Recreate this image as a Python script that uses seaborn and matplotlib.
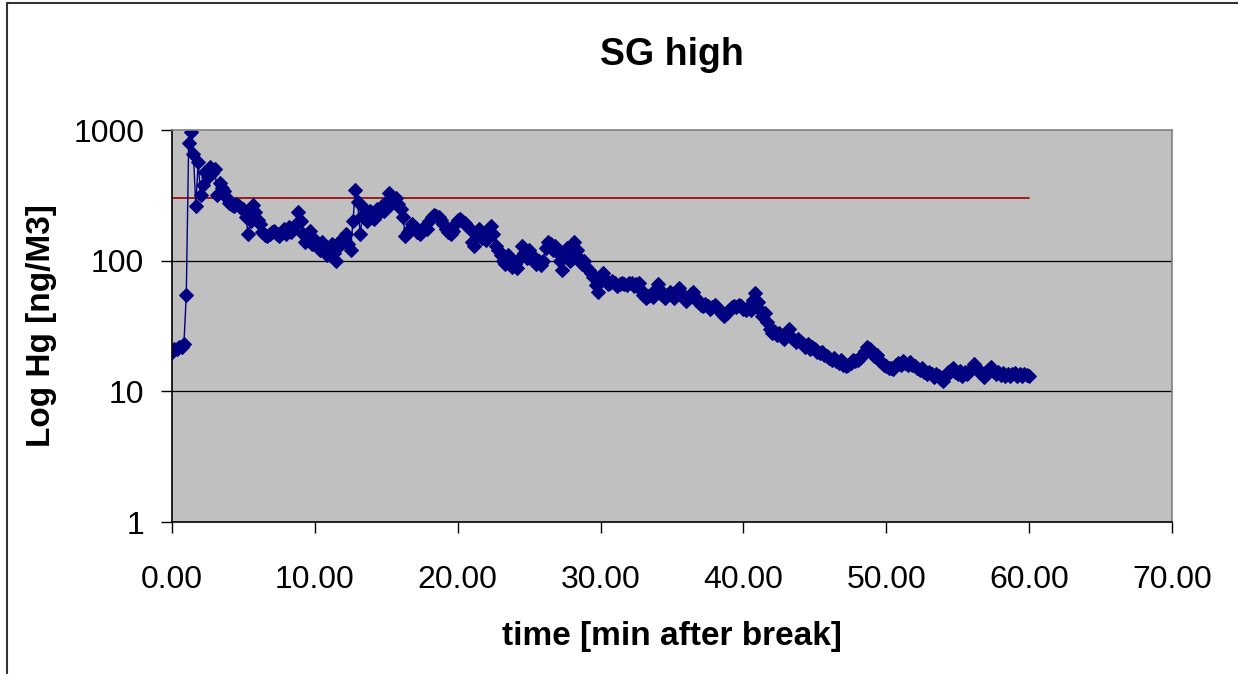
"""Hg concentration after break, SG high (log scale)."""

import numpy as np
import pandas as pd
import matplotlib
matplotlib.use("Agg")
import matplotlib.pyplot as plt
from matplotlib.patches import Rectangle
import seaborn as sns

# sampled every 10 s (1/6 min) from 0 to 60 min
time_min = np.round(np.arange(361) / 6, 3)

# Hg readings [ng/m3], one row per 2 minutes
hg = [
    20, 21, 21, 22, 22, 23, 55, 800, 960, 650, 260, 570,
    320, 380, 480, 440, 520, 470, 500, 320, 390, 360, 340, 300,
    275, 268, 262, 270, 262, 255, 250, 215, 160, 200, 265, 235,
    205, 190, 165, 158, 155, 160, 165, 170, 160, 155, 165, 175,
    160, 180, 165, 175, 190, 235, 200, 160, 140, 150, 170, 135,
    145, 130, 120, 140, 125, 110, 120, 135, 115, 100, 130, 145,
    150, 160, 135, 120, 200, 350, 280, 160, 220, 250, 200, 240,
    230, 210, 250, 230, 260, 240, 280, 330, 270, 290, 300, 270,
    250, 215, 155, 165, 175, 190, 180, 165, 160, 170, 180, 175,
    200, 215, 225, 220, 215, 205, 190, 175, 165, 160, 170, 190,
    205, 210, 200, 195, 185, 175, 140, 130, 165, 175, 150, 160,
    145, 170, 185, 160, 130, 120, 110, 100, 95, 110, 100, 90,
    95, 88, 105, 130, 115, 105, 120, 110, 100, 95, 100, 92,
    100, 125, 140, 135, 120, 130, 115, 100, 85, 110, 125, 100,
    115, 140, 120, 105, 95, 100, 90, 85, 80, 75, 65, 58,
    70, 80, 72, 66, 68, 70, 67, 64, 66, 68, 66, 65,
    67, 68, 64, 66, 67, 60, 55, 52, 54, 55, 53, 60,
    66, 60, 55, 52, 55, 58, 55, 52, 58, 62, 56, 52,
    49, 52, 56, 58, 52, 48, 46, 45, 47, 45, 43, 44,
    46, 44, 41, 39, 38, 40, 42, 44, 45, 44, 46, 45,
    43, 42, 44, 42, 50, 57, 48, 42, 38, 40, 34, 30,
    28, 29, 27, 28, 26, 25, 27, 30, 26, 25, 24, 25,
    24, 23, 22, 23, 21, 22, 21, 20, 19.5, 20, 19, 18.5,
    18, 17.5, 18, 17, 16.5, 17.5, 16, 15.5, 16, 16.5, 17.5, 17,
    17.5, 18, 19, 20.5, 21.8, 21, 19.5, 18.5, 19, 17.5, 16.5, 16,
    15.5, 15, 15.2, 14.8, 16, 16.5, 16, 17, 16.5, 16, 16.8, 16,
    15.5, 15, 14.5, 15, 14, 13.5, 14, 13.5, 12.8, 13.5, 13, 12.5,
    12, 13, 14, 14.5, 15, 14, 13.5, 14.2, 13.2, 14, 13.5, 14.5,
    15, 16.3, 15, 14, 13.5, 12.8, 14, 14.8, 15.3, 14.2, 13.6, 14,
    13.4, 13.8, 13.2, 13.6, 13, 13.5, 13.8, 13.2, 13.6, 13.1, 13.5, 13.3,
    13,
]

# reference level
limit_x = [0, 60]
limit_y = [300, 300]

x_ticks = [0, 10, 20, 30, 40, 50, 60, 70]
y_ticks = [1, 10, 100, 1000]

df = pd.DataFrame({'time': time_min, 'hg': hg})
ref = pd.DataFrame({'time': limit_x, 'hg': limit_y})

sns.set_theme(style="white")
plt.rcParams['font.family'] = ['Liberation Sans', 'DejaVu Sans']
plt.rcParams['text.color'] = 'black'
plt.rcParams['axes.labelcolor'] = 'black'
plt.rcParams['xtick.color'] = 'black'
plt.rcParams['ytick.color'] = 'black'

fig = plt.figure(figsize=(12.38, 6.74), dpi=100)
ax = fig.add_axes([172 / 1238, 1 - 522 / 674, 1000 / 1238, 392 / 674])
ax.set_facecolor('#C0C0C0')

sns.lineplot(data=ref, x='time', y='hg', color='#990000', linewidth=1.2,
             estimator=None, sort=False, ax=ax)
sns.lineplot(data=df, x='time', y='hg', color='#000080', linewidth=1,
             marker='D', markersize=7, markeredgecolor='#000080',
             estimator=None, sort=False, ax=ax)

ax.set_yscale('log')
ax.set_xlim(0, 70)
ax.set_ylim(1, 1000)
ax.set_xticks(x_ticks)
ax.set_xticklabels([f"{v:.2f}" for v in x_ticks])
ax.set_yticks(y_ticks)
ax.set_yticklabels([str(v) for v in y_ticks])
ax.yaxis.set_minor_locator(matplotlib.ticker.NullLocator())

for v in [10, 100]:
    ax.axhline(v, color='black', linewidth=0.9, zorder=0.5)

ax.tick_params(axis='both', which='major', direction='out', length=8,
               width=1, color='black', labelsize=23, labelcolor='black',
               bottom=True, left=True)
ax.tick_params(axis='x', pad=23)
ax.tick_params(axis='y', pad=12)
ax.spines['left'].set_color('black')
ax.spines['bottom'].set_color('black')
ax.spines['top'].set_color('#808080')
ax.spines['right'].set_color('#808080')
for s in ax.spines.values():
    s.set_linewidth(1.2)

ax.set_xlabel('time [min after break]', fontsize=24, fontweight='bold', labelpad=19)
ax.set_ylabel('Log Hg [ng/M3]', fontsize=24, fontweight='bold', labelpad=12)
ax.set_title('SG high', fontsize=27, fontweight='bold', pad=47)

# chart area frame (only left and top edges visible)
fig.patches.append(Rectangle((7 / 1238, -0.1), 1.2, 1.1 - 3 / 674,
                             transform=fig.transFigure, fill=False,
                             edgecolor='#333333', linewidth=1.5))

fig.savefig('out.png', dpi=100)
